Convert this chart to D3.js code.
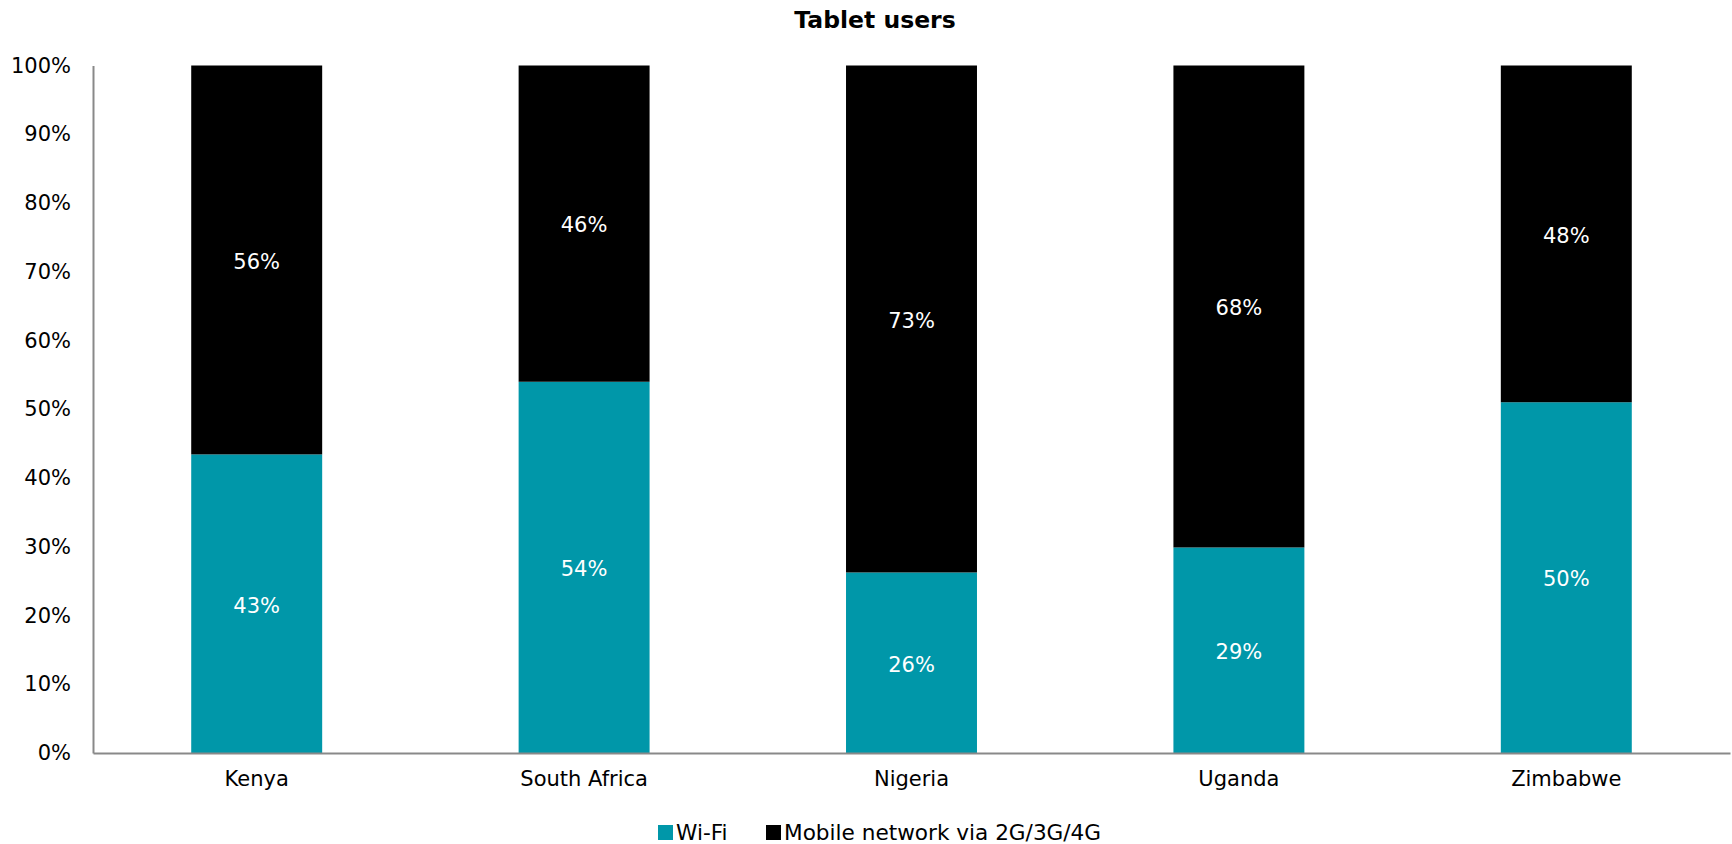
<!DOCTYPE html>
<html>
<head>
<meta charset="utf-8">
<script src="https://cdn.jsdelivr.net/npm/d3@7"></script>
<style>
  html, body { margin: 0; padding: 0; background: #fff; }
  svg { display: block; font-family: Verdana, "DejaVu Sans", sans-serif; }
</style>
</head>
<body>
<svg id="chart" width="1732" height="844"></svg>
<script>
// Tablet users: how they connect, share of respondents per country
const categories = ["Kenya", "South Africa", "Nigeria", "Uganda", "Zimbabwe"];
const seriesNames = ["Wi-Fi", "Mobile network via 2G/3G/4G"];
const wifi = [43, 54, 26, 29, 50];
const mobile = [56, 46, 73, 68, 48];
const yTicks = [0, 0.1, 0.2, 0.3, 0.4, 0.5, 0.6, 0.7, 0.8, 0.9, 1.0];
const colors = ["#0097A9", "#000000"];

const FONT = 'Verdana, "DejaVu Sans", sans-serif';
const svg = d3.select("#chart");
const margin = { left: 93, right: 2, top: 65.5, bottom: 91 };
const W = 1732, H = 844;
const x0 = margin.left, x1 = W - margin.right;
const y0 = H - margin.bottom, y1 = margin.top;

const rows = categories.map((c, i) => ({ cat: c, "Wi-Fi": wifi[i], "Mobile network via 2G/3G/4G": mobile[i] }));
const stacked = d3.stack().keys(seriesNames).offset(d3.stackOffsetExpand)(rows);

const x = d3.scaleBand().domain(categories).range([x0, x1]).paddingInner(0.6).paddingOuter(0.3);
const y = d3.scaleLinear().domain([0, 1]).range([y0, y1]);

// Title
svg.append("text")
  .attr("x", 875).attr("y", 28)
  .attr("text-anchor", "middle")
  .attr("font-weight", "bold")
  .attr("font-size", 23.5)
  .attr("fill", "#000")
  .text("Tablet users");

// Bars
const layers = svg.append("g").selectAll("g")
  .data(stacked).join("g")
  .attr("fill", (d, i) => colors[i]);

layers.selectAll("rect")
  .data(d => d).join("rect")
  .attr("x", d => x(d.data.cat))
  .attr("width", x.bandwidth())
  .attr("y", d => y(d[1]))
  .attr("height", d => y(d[0]) - y(d[1]));

// Value labels in the middle of each segment
stacked.forEach((layer, li) => {
  const vals = li === 0 ? wifi : mobile;
  svg.append("g").selectAll("text")
    .data(layer).join("text")
    .attr("x", d => x(d.data.cat) + x.bandwidth() / 2)
    .attr("y", d => (y(d[0]) + y(d[1])) / 2)
    .attr("dy", "0.42em")
    .attr("text-anchor", "middle")
    .attr("font-size", 21)
    .attr("fill", "#fff")
    .text((d, i) => vals[i] + "%");
});

// Y axis
const yAxis = svg.append("g")
  .attr("transform", `translate(${x0},0)`)
  .call(d3.axisLeft(y).tickValues(yTicks).tickFormat(d3.format(".0%")).tickSize(0).tickPadding(22));
yAxis.attr("font-family", FONT).attr("font-size", 21);
yAxis.select(".domain").attr("stroke", "#898989").attr("stroke-width", 2);
yAxis.selectAll("text").attr("fill", "#000");

// X axis
const xAxis = svg.append("g")
  .attr("transform", `translate(0,${y0})`)
  .call(d3.axisBottom(x).tickSize(0).tickPadding(18));
xAxis.attr("font-family", FONT).attr("font-size", 21);
xAxis.select(".domain").attr("stroke", "#898989").attr("stroke-width", 2);
xAxis.selectAll("text").attr("fill", "#000");

// Legend
const legend = svg.append("g");
const legendItems = [
  { name: seriesNames[0], color: colors[0], x: 658 },
  { name: seriesNames[1], color: colors[1], x: 766 }
];
legendItems.forEach(it => {
  legend.append("rect")
    .attr("x", it.x).attr("y", 825).attr("width", 15).attr("height", 15)
    .attr("fill", it.color);
  legend.append("text")
    .attr("x", it.x + 18).attr("y", 840)
    .attr("font-size", 21.6).attr("fill", "#000")
    .text(it.name);
});
</script>
</body>
</html>
